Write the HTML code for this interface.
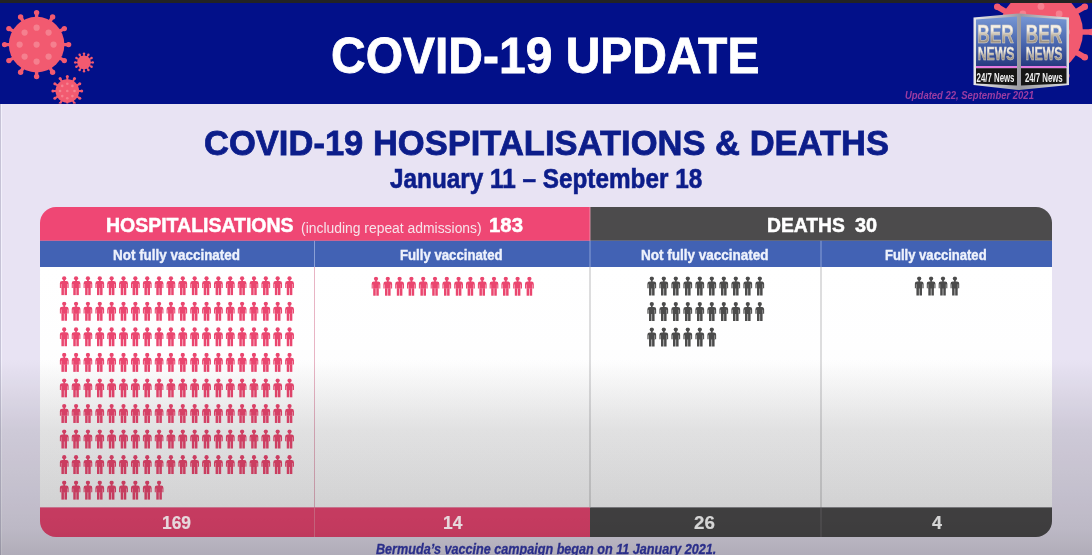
<!DOCTYPE html>
<html><head><meta charset="utf-8">
<style>
*{margin:0;padding:0;box-sizing:border-box}
html,body{width:1092px;height:555px;overflow:hidden}
body{position:relative;font-family:"Liberation Sans",sans-serif;background:#e8e3f3}
#root{position:absolute;left:0;top:0;width:1092px;height:555px;overflow:hidden;background:#e8e3f3}
.abs{position:absolute;white-space:pre}
.t{position:absolute;white-space:pre;line-height:1;transform-origin:0 0}
#ov{position:absolute;left:0;top:0;width:1092px;height:555px;mix-blend-mode:multiply;background:linear-gradient(to bottom,#ffffff 0px,#ffffff 360px,#f1f1f1 395px,#e3e3e3 430px,#d7d7d7 495px,#cfcfcf 530px,#c2c2c2 555px)}
</style></head><body><div id="root">
<div class="abs" style="left:0;top:0;width:1092px;height:3px;background:#232323"></div>
<div class="abs" style="left:0;top:3px;width:1092px;height:100.5px;background:#021089"></div>
<svg class="abs" style="left:0;top:0" width="1092" height="555" viewBox="0 0 1092 555">
<defs>
<symbol id="man" viewBox="0 0 10 20" width="9.6" height="19.6">
<circle cx="5" cy="2.2" r="2.2"/>
<rect x="4.1" y="3.6" width="1.8" height="2"/>
<path d="M0.4,12.2 L0.4,7.6 Q0.4,5.1 2.9,5.1 L7.1,5.1 Q9.6,5.1 9.6,7.6 L9.6,12.2 L8.4,12.2 L8.4,8.2 L8.0,8.2 L8.0,12.4 L2.0,12.4 L2.0,8.2 L1.6,8.2 L1.6,12.2 Z"/>
<rect x="2.1" y="12" width="2.6" height="7.8"/>
<rect x="5.3" y="12" width="2.6" height="7.8"/>
</symbol>
<clipPath id="hdrclip"><rect x="0" y="3" width="1092" height="100.5"/></clipPath>
<clipPath id="tclip"><rect x="40" y="207" width="1012" height="330" rx="16" ry="16"/></clipPath>
<linearGradient id="bodyg" x1="0" y1="267" x2="0" y2="507.4" gradientUnits="userSpaceOnUse">
<stop offset="0" stop-color="#ffffff"/><stop offset="1" stop-color="#fcfcfd"/>
</linearGradient>
</defs>
<g clip-path="url(#hdrclip)"><line x1="36.60" y1="19.58" x2="36.60" y2="12.60" stroke="#f25a70" stroke-width="3.4"/><circle cx="36.60" cy="12.60" r="2.7" fill="#f25a70"/><line x1="49.11" y1="22.93" x2="52.60" y2="16.89" stroke="#f25a70" stroke-width="3.4"/><circle cx="52.60" cy="16.89" r="2.7" fill="#f25a70"/><line x1="58.27" y1="32.09" x2="64.31" y2="28.60" stroke="#f25a70" stroke-width="3.4"/><circle cx="64.31" cy="28.60" r="2.7" fill="#f25a70"/><line x1="61.62" y1="44.60" x2="68.60" y2="44.60" stroke="#f25a70" stroke-width="3.4"/><circle cx="68.60" cy="44.60" r="2.7" fill="#f25a70"/><line x1="58.27" y1="57.11" x2="64.31" y2="60.60" stroke="#f25a70" stroke-width="3.4"/><circle cx="64.31" cy="60.60" r="2.7" fill="#f25a70"/><line x1="49.11" y1="66.27" x2="52.60" y2="72.31" stroke="#f25a70" stroke-width="3.4"/><circle cx="52.60" cy="72.31" r="2.7" fill="#f25a70"/><line x1="36.60" y1="69.62" x2="36.60" y2="76.60" stroke="#f25a70" stroke-width="3.4"/><circle cx="36.60" cy="76.60" r="2.7" fill="#f25a70"/><line x1="24.09" y1="66.27" x2="20.60" y2="72.31" stroke="#f25a70" stroke-width="3.4"/><circle cx="20.60" cy="72.31" r="2.7" fill="#f25a70"/><line x1="14.93" y1="57.11" x2="8.89" y2="60.60" stroke="#f25a70" stroke-width="3.4"/><circle cx="8.89" cy="60.60" r="2.7" fill="#f25a70"/><line x1="11.58" y1="44.60" x2="4.60" y2="44.60" stroke="#f25a70" stroke-width="3.4"/><circle cx="4.60" cy="44.60" r="2.7" fill="#f25a70"/><line x1="14.93" y1="32.09" x2="8.89" y2="28.60" stroke="#f25a70" stroke-width="3.4"/><circle cx="8.89" cy="28.60" r="2.7" fill="#f25a70"/><line x1="24.09" y1="22.93" x2="20.60" y2="16.89" stroke="#f25a70" stroke-width="3.4"/><circle cx="20.60" cy="16.89" r="2.7" fill="#f25a70"/><circle cx="36.6" cy="44.6" r="27.8" fill="#f25a70"/><circle cx="36.6" cy="44.6" r="3.10" fill="#f5808f"/><circle cx="36.60" cy="27.64" r="3.10" fill="#f5808f"/><circle cx="48.59" cy="32.61" r="3.10" fill="#f5808f"/><circle cx="53.56" cy="44.60" r="3.10" fill="#f5808f"/><circle cx="48.59" cy="56.59" r="3.10" fill="#f5808f"/><circle cx="36.60" cy="61.56" r="3.10" fill="#f5808f"/><circle cx="24.61" cy="56.59" r="3.10" fill="#f5808f"/><circle cx="19.64" cy="44.60" r="3.10" fill="#f5808f"/><circle cx="24.61" cy="32.61" r="3.10" fill="#f5808f"/><line x1="84.00" y1="56.28" x2="84.00" y2="53.60" stroke="#f25a70" stroke-width="1.5"/><circle cx="84.00" cy="53.60" r="1.2" fill="#f25a70"/><line x1="87.06" y1="57.10" x2="88.40" y2="54.78" stroke="#f25a70" stroke-width="1.5"/><circle cx="88.40" cy="54.78" r="1.2" fill="#f25a70"/><line x1="89.30" y1="59.34" x2="91.62" y2="58.00" stroke="#f25a70" stroke-width="1.5"/><circle cx="91.62" cy="58.00" r="1.2" fill="#f25a70"/><line x1="90.12" y1="62.40" x2="92.80" y2="62.40" stroke="#f25a70" stroke-width="1.5"/><circle cx="92.80" cy="62.40" r="1.2" fill="#f25a70"/><line x1="89.30" y1="65.46" x2="91.62" y2="66.80" stroke="#f25a70" stroke-width="1.5"/><circle cx="91.62" cy="66.80" r="1.2" fill="#f25a70"/><line x1="87.06" y1="67.70" x2="88.40" y2="70.02" stroke="#f25a70" stroke-width="1.5"/><circle cx="88.40" cy="70.02" r="1.2" fill="#f25a70"/><line x1="84.00" y1="68.52" x2="84.00" y2="71.20" stroke="#f25a70" stroke-width="1.5"/><circle cx="84.00" cy="71.20" r="1.2" fill="#f25a70"/><line x1="80.94" y1="67.70" x2="79.60" y2="70.02" stroke="#f25a70" stroke-width="1.5"/><circle cx="79.60" cy="70.02" r="1.2" fill="#f25a70"/><line x1="78.70" y1="65.46" x2="76.38" y2="66.80" stroke="#f25a70" stroke-width="1.5"/><circle cx="76.38" cy="66.80" r="1.2" fill="#f25a70"/><line x1="77.88" y1="62.40" x2="75.20" y2="62.40" stroke="#f25a70" stroke-width="1.5"/><circle cx="75.20" cy="62.40" r="1.2" fill="#f25a70"/><line x1="78.70" y1="59.34" x2="76.38" y2="58.00" stroke="#f25a70" stroke-width="1.5"/><circle cx="76.38" cy="58.00" r="1.2" fill="#f25a70"/><line x1="80.94" y1="57.10" x2="79.60" y2="54.78" stroke="#f25a70" stroke-width="1.5"/><circle cx="79.60" cy="54.78" r="1.2" fill="#f25a70"/><circle cx="84" cy="62.4" r="6.8" fill="#f25a70"/><line x1="67.30" y1="80.38" x2="67.30" y2="76.60" stroke="#f25a70" stroke-width="2.0"/><circle cx="67.30" cy="76.60" r="1.5" fill="#f25a70"/><line x1="72.61" y1="81.80" x2="74.50" y2="78.53" stroke="#f25a70" stroke-width="2.0"/><circle cx="74.50" cy="78.53" r="1.5" fill="#f25a70"/><line x1="76.50" y1="85.69" x2="79.77" y2="83.80" stroke="#f25a70" stroke-width="2.0"/><circle cx="79.77" cy="83.80" r="1.5" fill="#f25a70"/><line x1="77.92" y1="91.00" x2="81.70" y2="91.00" stroke="#f25a70" stroke-width="2.0"/><circle cx="81.70" cy="91.00" r="1.5" fill="#f25a70"/><line x1="76.50" y1="96.31" x2="79.77" y2="98.20" stroke="#f25a70" stroke-width="2.0"/><circle cx="79.77" cy="98.20" r="1.5" fill="#f25a70"/><line x1="72.61" y1="100.20" x2="74.50" y2="103.47" stroke="#f25a70" stroke-width="2.0"/><circle cx="74.50" cy="103.47" r="1.5" fill="#f25a70"/><line x1="67.30" y1="101.62" x2="67.30" y2="105.40" stroke="#f25a70" stroke-width="2.0"/><circle cx="67.30" cy="105.40" r="1.5" fill="#f25a70"/><line x1="61.99" y1="100.20" x2="60.10" y2="103.47" stroke="#f25a70" stroke-width="2.0"/><circle cx="60.10" cy="103.47" r="1.5" fill="#f25a70"/><line x1="58.10" y1="96.31" x2="54.83" y2="98.20" stroke="#f25a70" stroke-width="2.0"/><circle cx="54.83" cy="98.20" r="1.5" fill="#f25a70"/><line x1="56.68" y1="91.00" x2="52.90" y2="91.00" stroke="#f25a70" stroke-width="2.0"/><circle cx="52.90" cy="91.00" r="1.5" fill="#f25a70"/><line x1="58.10" y1="85.69" x2="54.83" y2="83.80" stroke="#f25a70" stroke-width="2.0"/><circle cx="54.83" cy="83.80" r="1.5" fill="#f25a70"/><line x1="61.99" y1="81.80" x2="60.10" y2="78.53" stroke="#f25a70" stroke-width="2.0"/><circle cx="60.10" cy="78.53" r="1.5" fill="#f25a70"/><circle cx="67.3" cy="91" r="11.8" fill="#f25a70"/><circle cx="67.3" cy="91" r="1.30" fill="#f5808f"/><circle cx="67.30" cy="83.80" r="1.30" fill="#f5808f"/><circle cx="72.39" cy="85.91" r="1.30" fill="#f5808f"/><circle cx="74.50" cy="91.00" r="1.30" fill="#f5808f"/><circle cx="72.39" cy="96.09" r="1.30" fill="#f5808f"/><circle cx="67.30" cy="98.20" r="1.30" fill="#f5808f"/><circle cx="62.21" cy="96.09" r="1.30" fill="#f5808f"/><circle cx="60.10" cy="91.00" r="1.30" fill="#f5808f"/><circle cx="62.21" cy="85.91" r="1.30" fill="#f5808f"/><line x1="1041.00" y1="-5.80" x2="1041.00" y2="-18.50" stroke="#f25a70" stroke-width="5.5"/><circle cx="1041.00" cy="-18.50" r="3.3" fill="#f25a70"/><line x1="1059.90" y1="-0.74" x2="1066.25" y2="-11.73" stroke="#f25a70" stroke-width="5.5"/><circle cx="1066.25" cy="-11.73" r="3.3" fill="#f25a70"/><line x1="1073.74" y1="13.10" x2="1084.73" y2="6.75" stroke="#f25a70" stroke-width="5.5"/><circle cx="1084.73" cy="6.75" r="3.3" fill="#f25a70"/><line x1="1078.80" y1="32.00" x2="1091.50" y2="32.00" stroke="#f25a70" stroke-width="5.5"/><circle cx="1091.50" cy="32.00" r="3.3" fill="#f25a70"/><line x1="1073.74" y1="50.90" x2="1084.73" y2="57.25" stroke="#f25a70" stroke-width="5.5"/><circle cx="1084.73" cy="57.25" r="3.3" fill="#f25a70"/><line x1="1059.90" y1="64.74" x2="1066.25" y2="75.73" stroke="#f25a70" stroke-width="5.5"/><circle cx="1066.25" cy="75.73" r="3.3" fill="#f25a70"/><line x1="1041.00" y1="69.80" x2="1041.00" y2="82.50" stroke="#f25a70" stroke-width="5.5"/><circle cx="1041.00" cy="82.50" r="3.3" fill="#f25a70"/><line x1="1022.10" y1="64.74" x2="1015.75" y2="75.73" stroke="#f25a70" stroke-width="5.5"/><circle cx="1015.75" cy="75.73" r="3.3" fill="#f25a70"/><line x1="1008.26" y1="50.90" x2="997.27" y2="57.25" stroke="#f25a70" stroke-width="5.5"/><circle cx="997.27" cy="57.25" r="3.3" fill="#f25a70"/><line x1="1003.20" y1="32.00" x2="990.50" y2="32.00" stroke="#f25a70" stroke-width="5.5"/><circle cx="990.50" cy="32.00" r="3.3" fill="#f25a70"/><line x1="1008.26" y1="13.10" x2="997.27" y2="6.75" stroke="#f25a70" stroke-width="5.5"/><circle cx="997.27" cy="6.75" r="3.3" fill="#f25a70"/><line x1="1022.10" y1="-0.74" x2="1015.75" y2="-11.73" stroke="#f25a70" stroke-width="5.5"/><circle cx="1015.75" cy="-11.73" r="3.3" fill="#f25a70"/><circle cx="1041" cy="32" r="42" fill="#f25a70"/><circle cx="1041" cy="32" r="3.40" fill="#f5808f"/><circle cx="1041.00" cy="6.38" r="3.40" fill="#f5808f"/><circle cx="1059.12" cy="13.88" r="3.40" fill="#f5808f"/><circle cx="1066.62" cy="32.00" r="3.40" fill="#f5808f"/><circle cx="1059.12" cy="50.12" r="3.40" fill="#f5808f"/><circle cx="1041.00" cy="57.62" r="3.40" fill="#f5808f"/><circle cx="1022.88" cy="50.12" r="3.40" fill="#f5808f"/><circle cx="1015.38" cy="32.00" r="3.40" fill="#f5808f"/><circle cx="1022.88" cy="13.88" r="3.40" fill="#f5808f"/></g>
<g clip-path="url(#tclip)">
<rect x="40" y="207" width="550" height="33.80000000000001" fill="#ef4774"/>
<rect x="590" y="207" width="462" height="33.80000000000001" fill="#4c4b4c"/>
<rect x="40" y="240.8" width="1012" height="26.19999999999999" fill="#4262b4"/>
<rect x="40" y="267" width="1012" height="240.39999999999998" fill="url(#bodyg)"/>
<rect x="40" y="507.4" width="550" height="29.600000000000023" fill="#ef4774"/>
<rect x="590" y="507.4" width="462" height="29.600000000000023" fill="#4c4b4c"/>
<rect x="589.6" y="207" width="0.8" height="33.80000000000001" fill="#f2a0b6"/>
<rect x="314.0" y="240.8" width="1" height="26.19999999999999" fill="#8aa0d6"/>
<rect x="589.5" y="240.8" width="1" height="26.19999999999999" fill="#8aa0d6"/>
<rect x="820.5" y="240.8" width="1" height="26.19999999999999" fill="#8aa0d6"/>
<rect x="314.0" y="267" width="1" height="240.39999999999998" fill="#e8b4c4"/>
<rect x="589.5" y="267" width="1" height="240.39999999999998" fill="#bcbcbe"/>
<rect x="820.5" y="267" width="1" height="240.39999999999998" fill="#bcbcbe"/>
<rect x="314.0" y="507.4" width="1" height="29.600000000000023" fill="#f07896"/>
<rect x="820.5" y="507.4" width="1" height="29.600000000000023" fill="#6a696b"/>
</g>
<use href="#man" x="59.40" y="276.00" fill="#ea466f"/><use href="#man" x="71.26" y="276.00" fill="#ea466f"/><use href="#man" x="83.12" y="276.00" fill="#ea466f"/><use href="#man" x="94.98" y="276.00" fill="#ea466f"/><use href="#man" x="106.84" y="276.00" fill="#ea466f"/><use href="#man" x="118.70" y="276.00" fill="#ea466f"/><use href="#man" x="130.56" y="276.00" fill="#ea466f"/><use href="#man" x="142.42" y="276.00" fill="#ea466f"/><use href="#man" x="154.28" y="276.00" fill="#ea466f"/><use href="#man" x="166.14" y="276.00" fill="#ea466f"/><use href="#man" x="178.00" y="276.00" fill="#ea466f"/><use href="#man" x="189.86" y="276.00" fill="#ea466f"/><use href="#man" x="201.72" y="276.00" fill="#ea466f"/><use href="#man" x="213.58" y="276.00" fill="#ea466f"/><use href="#man" x="225.44" y="276.00" fill="#ea466f"/><use href="#man" x="237.30" y="276.00" fill="#ea466f"/><use href="#man" x="249.16" y="276.00" fill="#ea466f"/><use href="#man" x="261.02" y="276.00" fill="#ea466f"/><use href="#man" x="272.88" y="276.00" fill="#ea466f"/><use href="#man" x="284.74" y="276.00" fill="#ea466f"/><use href="#man" x="59.40" y="301.55" fill="#ea466f"/><use href="#man" x="71.26" y="301.55" fill="#ea466f"/><use href="#man" x="83.12" y="301.55" fill="#ea466f"/><use href="#man" x="94.98" y="301.55" fill="#ea466f"/><use href="#man" x="106.84" y="301.55" fill="#ea466f"/><use href="#man" x="118.70" y="301.55" fill="#ea466f"/><use href="#man" x="130.56" y="301.55" fill="#ea466f"/><use href="#man" x="142.42" y="301.55" fill="#ea466f"/><use href="#man" x="154.28" y="301.55" fill="#ea466f"/><use href="#man" x="166.14" y="301.55" fill="#ea466f"/><use href="#man" x="178.00" y="301.55" fill="#ea466f"/><use href="#man" x="189.86" y="301.55" fill="#ea466f"/><use href="#man" x="201.72" y="301.55" fill="#ea466f"/><use href="#man" x="213.58" y="301.55" fill="#ea466f"/><use href="#man" x="225.44" y="301.55" fill="#ea466f"/><use href="#man" x="237.30" y="301.55" fill="#ea466f"/><use href="#man" x="249.16" y="301.55" fill="#ea466f"/><use href="#man" x="261.02" y="301.55" fill="#ea466f"/><use href="#man" x="272.88" y="301.55" fill="#ea466f"/><use href="#man" x="284.74" y="301.55" fill="#ea466f"/><use href="#man" x="59.40" y="327.10" fill="#ea466f"/><use href="#man" x="71.26" y="327.10" fill="#ea466f"/><use href="#man" x="83.12" y="327.10" fill="#ea466f"/><use href="#man" x="94.98" y="327.10" fill="#ea466f"/><use href="#man" x="106.84" y="327.10" fill="#ea466f"/><use href="#man" x="118.70" y="327.10" fill="#ea466f"/><use href="#man" x="130.56" y="327.10" fill="#ea466f"/><use href="#man" x="142.42" y="327.10" fill="#ea466f"/><use href="#man" x="154.28" y="327.10" fill="#ea466f"/><use href="#man" x="166.14" y="327.10" fill="#ea466f"/><use href="#man" x="178.00" y="327.10" fill="#ea466f"/><use href="#man" x="189.86" y="327.10" fill="#ea466f"/><use href="#man" x="201.72" y="327.10" fill="#ea466f"/><use href="#man" x="213.58" y="327.10" fill="#ea466f"/><use href="#man" x="225.44" y="327.10" fill="#ea466f"/><use href="#man" x="237.30" y="327.10" fill="#ea466f"/><use href="#man" x="249.16" y="327.10" fill="#ea466f"/><use href="#man" x="261.02" y="327.10" fill="#ea466f"/><use href="#man" x="272.88" y="327.10" fill="#ea466f"/><use href="#man" x="284.74" y="327.10" fill="#ea466f"/><use href="#man" x="59.40" y="352.65" fill="#ea466f"/><use href="#man" x="71.26" y="352.65" fill="#ea466f"/><use href="#man" x="83.12" y="352.65" fill="#ea466f"/><use href="#man" x="94.98" y="352.65" fill="#ea466f"/><use href="#man" x="106.84" y="352.65" fill="#ea466f"/><use href="#man" x="118.70" y="352.65" fill="#ea466f"/><use href="#man" x="130.56" y="352.65" fill="#ea466f"/><use href="#man" x="142.42" y="352.65" fill="#ea466f"/><use href="#man" x="154.28" y="352.65" fill="#ea466f"/><use href="#man" x="166.14" y="352.65" fill="#ea466f"/><use href="#man" x="178.00" y="352.65" fill="#ea466f"/><use href="#man" x="189.86" y="352.65" fill="#ea466f"/><use href="#man" x="201.72" y="352.65" fill="#ea466f"/><use href="#man" x="213.58" y="352.65" fill="#ea466f"/><use href="#man" x="225.44" y="352.65" fill="#ea466f"/><use href="#man" x="237.30" y="352.65" fill="#ea466f"/><use href="#man" x="249.16" y="352.65" fill="#ea466f"/><use href="#man" x="261.02" y="352.65" fill="#ea466f"/><use href="#man" x="272.88" y="352.65" fill="#ea466f"/><use href="#man" x="284.74" y="352.65" fill="#ea466f"/><use href="#man" x="59.40" y="378.20" fill="#ea466f"/><use href="#man" x="71.26" y="378.20" fill="#ea466f"/><use href="#man" x="83.12" y="378.20" fill="#ea466f"/><use href="#man" x="94.98" y="378.20" fill="#ea466f"/><use href="#man" x="106.84" y="378.20" fill="#ea466f"/><use href="#man" x="118.70" y="378.20" fill="#ea466f"/><use href="#man" x="130.56" y="378.20" fill="#ea466f"/><use href="#man" x="142.42" y="378.20" fill="#ea466f"/><use href="#man" x="154.28" y="378.20" fill="#ea466f"/><use href="#man" x="166.14" y="378.20" fill="#ea466f"/><use href="#man" x="178.00" y="378.20" fill="#ea466f"/><use href="#man" x="189.86" y="378.20" fill="#ea466f"/><use href="#man" x="201.72" y="378.20" fill="#ea466f"/><use href="#man" x="213.58" y="378.20" fill="#ea466f"/><use href="#man" x="225.44" y="378.20" fill="#ea466f"/><use href="#man" x="237.30" y="378.20" fill="#ea466f"/><use href="#man" x="249.16" y="378.20" fill="#ea466f"/><use href="#man" x="261.02" y="378.20" fill="#ea466f"/><use href="#man" x="272.88" y="378.20" fill="#ea466f"/><use href="#man" x="284.74" y="378.20" fill="#ea466f"/><use href="#man" x="59.40" y="403.75" fill="#ea466f"/><use href="#man" x="71.26" y="403.75" fill="#ea466f"/><use href="#man" x="83.12" y="403.75" fill="#ea466f"/><use href="#man" x="94.98" y="403.75" fill="#ea466f"/><use href="#man" x="106.84" y="403.75" fill="#ea466f"/><use href="#man" x="118.70" y="403.75" fill="#ea466f"/><use href="#man" x="130.56" y="403.75" fill="#ea466f"/><use href="#man" x="142.42" y="403.75" fill="#ea466f"/><use href="#man" x="154.28" y="403.75" fill="#ea466f"/><use href="#man" x="166.14" y="403.75" fill="#ea466f"/><use href="#man" x="178.00" y="403.75" fill="#ea466f"/><use href="#man" x="189.86" y="403.75" fill="#ea466f"/><use href="#man" x="201.72" y="403.75" fill="#ea466f"/><use href="#man" x="213.58" y="403.75" fill="#ea466f"/><use href="#man" x="225.44" y="403.75" fill="#ea466f"/><use href="#man" x="237.30" y="403.75" fill="#ea466f"/><use href="#man" x="249.16" y="403.75" fill="#ea466f"/><use href="#man" x="261.02" y="403.75" fill="#ea466f"/><use href="#man" x="272.88" y="403.75" fill="#ea466f"/><use href="#man" x="284.74" y="403.75" fill="#ea466f"/><use href="#man" x="59.40" y="429.30" fill="#ea466f"/><use href="#man" x="71.26" y="429.30" fill="#ea466f"/><use href="#man" x="83.12" y="429.30" fill="#ea466f"/><use href="#man" x="94.98" y="429.30" fill="#ea466f"/><use href="#man" x="106.84" y="429.30" fill="#ea466f"/><use href="#man" x="118.70" y="429.30" fill="#ea466f"/><use href="#man" x="130.56" y="429.30" fill="#ea466f"/><use href="#man" x="142.42" y="429.30" fill="#ea466f"/><use href="#man" x="154.28" y="429.30" fill="#ea466f"/><use href="#man" x="166.14" y="429.30" fill="#ea466f"/><use href="#man" x="178.00" y="429.30" fill="#ea466f"/><use href="#man" x="189.86" y="429.30" fill="#ea466f"/><use href="#man" x="201.72" y="429.30" fill="#ea466f"/><use href="#man" x="213.58" y="429.30" fill="#ea466f"/><use href="#man" x="225.44" y="429.30" fill="#ea466f"/><use href="#man" x="237.30" y="429.30" fill="#ea466f"/><use href="#man" x="249.16" y="429.30" fill="#ea466f"/><use href="#man" x="261.02" y="429.30" fill="#ea466f"/><use href="#man" x="272.88" y="429.30" fill="#ea466f"/><use href="#man" x="284.74" y="429.30" fill="#ea466f"/><use href="#man" x="59.40" y="454.85" fill="#ea466f"/><use href="#man" x="71.26" y="454.85" fill="#ea466f"/><use href="#man" x="83.12" y="454.85" fill="#ea466f"/><use href="#man" x="94.98" y="454.85" fill="#ea466f"/><use href="#man" x="106.84" y="454.85" fill="#ea466f"/><use href="#man" x="118.70" y="454.85" fill="#ea466f"/><use href="#man" x="130.56" y="454.85" fill="#ea466f"/><use href="#man" x="142.42" y="454.85" fill="#ea466f"/><use href="#man" x="154.28" y="454.85" fill="#ea466f"/><use href="#man" x="166.14" y="454.85" fill="#ea466f"/><use href="#man" x="178.00" y="454.85" fill="#ea466f"/><use href="#man" x="189.86" y="454.85" fill="#ea466f"/><use href="#man" x="201.72" y="454.85" fill="#ea466f"/><use href="#man" x="213.58" y="454.85" fill="#ea466f"/><use href="#man" x="225.44" y="454.85" fill="#ea466f"/><use href="#man" x="237.30" y="454.85" fill="#ea466f"/><use href="#man" x="249.16" y="454.85" fill="#ea466f"/><use href="#man" x="261.02" y="454.85" fill="#ea466f"/><use href="#man" x="272.88" y="454.85" fill="#ea466f"/><use href="#man" x="284.74" y="454.85" fill="#ea466f"/><use href="#man" x="59.40" y="480.40" fill="#ea466f"/><use href="#man" x="71.26" y="480.40" fill="#ea466f"/><use href="#man" x="83.12" y="480.40" fill="#ea466f"/><use href="#man" x="94.98" y="480.40" fill="#ea466f"/><use href="#man" x="106.84" y="480.40" fill="#ea466f"/><use href="#man" x="118.70" y="480.40" fill="#ea466f"/><use href="#man" x="130.56" y="480.40" fill="#ea466f"/><use href="#man" x="142.42" y="480.40" fill="#ea466f"/><use href="#man" x="154.28" y="480.40" fill="#ea466f"/><use href="#man" x="371.20" y="276.50" fill="#ea466f"/><use href="#man" x="383.00" y="276.50" fill="#ea466f"/><use href="#man" x="394.80" y="276.50" fill="#ea466f"/><use href="#man" x="406.60" y="276.50" fill="#ea466f"/><use href="#man" x="418.40" y="276.50" fill="#ea466f"/><use href="#man" x="430.20" y="276.50" fill="#ea466f"/><use href="#man" x="442.00" y="276.50" fill="#ea466f"/><use href="#man" x="453.80" y="276.50" fill="#ea466f"/><use href="#man" x="465.60" y="276.50" fill="#ea466f"/><use href="#man" x="477.40" y="276.50" fill="#ea466f"/><use href="#man" x="489.20" y="276.50" fill="#ea466f"/><use href="#man" x="501.00" y="276.50" fill="#ea466f"/><use href="#man" x="512.80" y="276.50" fill="#ea466f"/><use href="#man" x="524.60" y="276.50" fill="#ea466f"/><use href="#man" x="647.00" y="276.30" fill="#4b4b4b"/><use href="#man" x="659.00" y="276.30" fill="#4b4b4b"/><use href="#man" x="671.00" y="276.30" fill="#4b4b4b"/><use href="#man" x="683.00" y="276.30" fill="#4b4b4b"/><use href="#man" x="695.00" y="276.30" fill="#4b4b4b"/><use href="#man" x="707.00" y="276.30" fill="#4b4b4b"/><use href="#man" x="719.00" y="276.30" fill="#4b4b4b"/><use href="#man" x="731.00" y="276.30" fill="#4b4b4b"/><use href="#man" x="743.00" y="276.30" fill="#4b4b4b"/><use href="#man" x="755.00" y="276.30" fill="#4b4b4b"/><use href="#man" x="647.00" y="301.80" fill="#4b4b4b"/><use href="#man" x="659.00" y="301.80" fill="#4b4b4b"/><use href="#man" x="671.00" y="301.80" fill="#4b4b4b"/><use href="#man" x="683.00" y="301.80" fill="#4b4b4b"/><use href="#man" x="695.00" y="301.80" fill="#4b4b4b"/><use href="#man" x="707.00" y="301.80" fill="#4b4b4b"/><use href="#man" x="719.00" y="301.80" fill="#4b4b4b"/><use href="#man" x="731.00" y="301.80" fill="#4b4b4b"/><use href="#man" x="743.00" y="301.80" fill="#4b4b4b"/><use href="#man" x="755.00" y="301.80" fill="#4b4b4b"/><use href="#man" x="647.00" y="327.30" fill="#4b4b4b"/><use href="#man" x="659.00" y="327.30" fill="#4b4b4b"/><use href="#man" x="671.00" y="327.30" fill="#4b4b4b"/><use href="#man" x="683.00" y="327.30" fill="#4b4b4b"/><use href="#man" x="695.00" y="327.30" fill="#4b4b4b"/><use href="#man" x="707.00" y="327.30" fill="#4b4b4b"/><use href="#man" x="914.40" y="276.30" fill="#4b4b4b"/><use href="#man" x="926.30" y="276.30" fill="#4b4b4b"/><use href="#man" x="938.20" y="276.30" fill="#4b4b4b"/><use href="#man" x="950.10" y="276.30" fill="#4b4b4b"/>
</svg>

<svg class="abs" style="left:0;top:0" width="1092" height="555" viewBox="0 0 1092 555">
<defs>
<linearGradient id="lg_panel" x1="0" y1="0" x2="0" y2="1">
<stop offset="0" stop-color="#7797d4"/><stop offset="0.55" stop-color="#4865ad"/><stop offset="1" stop-color="#26387e"/>
</linearGradient>
<linearGradient id="lg_silver" x1="0" y1="0" x2="0" y2="1">
<stop offset="0" stop-color="#efe9e0"/><stop offset="0.35" stop-color="#f7f2ea"/><stop offset="0.55" stop-color="#b8ae9e"/><stop offset="0.75" stop-color="#9c9284"/><stop offset="1" stop-color="#e4ddd2"/>
</linearGradient>
<linearGradient id="lg_frame" x1="0" y1="0" x2="1" y2="0">
<stop offset="0" stop-color="#e8e8ea"/><stop offset="0.5" stop-color="#9a9aa0"/><stop offset="1" stop-color="#dcdce0"/>
</linearGradient>
</defs>
<polygon points="973.5,17.5 1019,13.5 1069,17.5 1069,85 1019,90 973.5,85" fill="url(#lg_frame)"/>
<polygon points="976,19.5 1017,16.5 1017,67 976,67" fill="url(#lg_panel)"/>
<polygon points="1021,16.5 1066.5,19.5 1066.5,67 1021,67" fill="url(#lg_panel)"/>
<rect x="976" y="66" width="41" height="2.2" fill="#e47ae0"/>
<rect x="1021" y="66" width="45.5" height="2.2" fill="#e47ae0"/>
<polygon points="976,68.2 1017,68.2 1017,85.5 976,83.5" fill="#151515"/>
<polygon points="1021,68.2 1066.5,68.2 1066.5,83.5 1021,85.5" fill="#151515"/>
<g font-family="Liberation Sans" font-weight="bold" text-anchor="middle">
<text x="0" y="0" font-size="25.5" fill="url(#lg_silver)" stroke="#d8d2c6" stroke-width="0.6" transform="translate(995.5 43.2) scale(0.68 1)">BER</text>
<text x="0" y="0" font-size="25.5" fill="url(#lg_silver)" stroke="#d8d2c6" stroke-width="0.6" transform="translate(1044 43.2) scale(0.68 1)">BER</text>
<text x="0" y="0" font-size="17.5" fill="url(#lg_silver)" stroke="#d8d2c6" stroke-width="0.5" transform="translate(996 60.3) scale(0.7 1)">NEWS</text>
<text x="0" y="0" font-size="17.5" fill="url(#lg_silver)" stroke="#d8d2c6" stroke-width="0.5" transform="translate(1044 60.3) scale(0.7 1)">NEWS</text>
<text x="0" y="0" font-size="13.5" fill="#f0f0f0" transform="translate(995.5 82.3) scale(0.58 1)">24/7 News</text>
<text x="0" y="0" font-size="13.5" fill="#f0f0f0" transform="translate(1043.8 82.3) scale(0.58 1)">24/7 News</text>
</g>
</svg>

<div class="abs" style="left:0;top:103.5px;width:1.3px;height:452px;background:#c6c3d6"></div><div class="abs" style="left:1.3px;top:103.5px;width:1.2px;height:452px;background:#f2f0fb"></div>
<div id="ov"></div>
<div class="t" style="left:331.07px;top:31.5px;font-size:49.709px;color:#ffffff;font-weight:bold;font-style:normal;transform:scaleX(0.9659);-webkit-text-stroke:0.8px #ffffff;">COVID-19 UPDATE</div><div class="t" style="left:204.03px;top:126.08px;font-size:35.756px;color:#0c1d8a;font-weight:bold;font-style:normal;transform:scaleX(0.9661);-webkit-text-stroke:0.8px #0c1d8a;">COVID-19 HOSPITALISATIONS &amp; DEATHS</div><div class="t" style="left:390.0px;top:166.36px;font-size:26.744px;color:#0c1d8a;font-weight:bold;font-style:normal;transform:scaleX(0.9096);-webkit-text-stroke:0.6px #0c1d8a;">January 11 – September 18</div><div class="t" style="left:106.01px;top:216.06px;font-size:19.767px;color:#ffffff;font-weight:bold;font-style:normal;transform:scaleX(0.9862);-webkit-text-stroke:0.5px #ffffff;">HOSPITALISATIONS</div><div class="t" style="left:301.08px;top:219.5px;font-size:15.172px;color:#f7e3ea;font-weight:normal;font-style:normal;transform:scaleX(0.9164);">(including repeat admissions)</div><div class="t" style="left:488.97px;top:216.06px;font-size:19.767px;color:#ffffff;font-weight:bold;font-style:normal;transform:scaleX(1.0312);-webkit-text-stroke:0.5px #ffffff;">183</div><div class="t" style="left:766.54px;top:215.26px;font-size:20.058px;color:#ffffff;font-weight:bold;font-style:normal;transform:scaleX(0.962);-webkit-text-stroke:0.5px #ffffff;">DEATHS</div><div class="t" style="left:854.7px;top:215.26px;font-size:20.058px;color:#ffffff;font-weight:bold;font-style:normal;transform:scaleX(0.9909);-webkit-text-stroke:0.5px #ffffff;">30</div><div class="t" style="left:113.46px;top:247.65px;font-size:14.244px;color:#eef2fc;font-weight:bold;font-style:normal;transform:scaleX(0.9444);-webkit-text-stroke:0.4px #eef2fc;">Not fully vaccinated</div><div class="t" style="left:400.07px;top:247.65px;font-size:14.244px;color:#eef2fc;font-weight:bold;font-style:normal;transform:scaleX(0.9266);-webkit-text-stroke:0.4px #eef2fc;">Fully vaccinated</div><div class="t" style="left:640.85px;top:247.65px;font-size:14.244px;color:#eef2fc;font-weight:bold;font-style:normal;transform:scaleX(0.9489);-webkit-text-stroke:0.4px #eef2fc;">Not fully vaccinated</div><div class="t" style="left:885.08px;top:247.65px;font-size:14.244px;color:#eef2fc;font-weight:bold;font-style:normal;transform:scaleX(0.9174);-webkit-text-stroke:0.4px #eef2fc;">Fully vaccinated</div><div class="t" style="left:162.03px;top:513.5px;font-size:18.023px;color:#e6d8dc;font-weight:bold;font-style:normal;transform:scaleX(0.9655);-webkit-text-stroke:0.2px #e6d8dc;">169</div><div class="t" style="left:442.74px;top:513.5px;font-size:18.023px;color:#e6d8dc;font-weight:bold;font-style:normal;transform:scaleX(0.9632);-webkit-text-stroke:0.2px #e6d8dc;">14</div><div class="t" style="left:694.46px;top:513.5px;font-size:18.023px;color:#d6d6d6;font-weight:bold;font-style:normal;transform:scaleX(1.0421);-webkit-text-stroke:0.2px #d6d6d6;">26</div><div class="t" style="left:932.0px;top:513.5px;font-size:18.023px;color:#d6d6d6;font-weight:bold;font-style:normal;transform:scaleX(1.0);-webkit-text-stroke:0.2px #d6d6d6;">4</div><div class="t" style="left:376.0px;top:542.36px;font-size:14.099px;color:#2a2e8a;font-weight:bold;font-style:italic;transform:scaleX(0.896);-webkit-text-stroke:0.3px #2a2e8a;">Bermuda’s vaccine campaign began on 11 January 2021.</div><div class="t" style="left:905.14px;top:90.19px;font-size:11.047px;color:#9a3ca2;font-weight:bold;font-style:italic;transform:scaleX(0.8581);">Updated 22, September 2021</div>
</div></body></html>
